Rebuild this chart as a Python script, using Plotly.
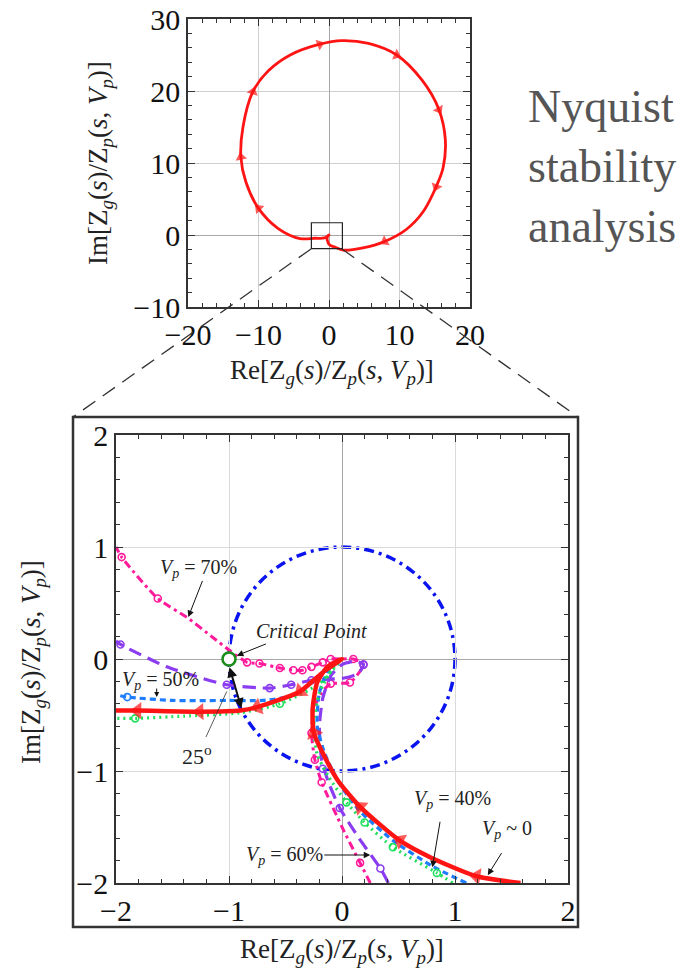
import plotly.graph_objects as go

W, H = 698, 970
def px(x): return x / W
def py(y): return 1 - y / H

SERIF = "Liberation Serif"

# ---------------- data: overview Nyquist loop (top) ----------------
loop_re = [4.8, 2.0, 0.9, 0.1, -0.25, -0.2, 0.0, -0.4, -0.9, -2.0, -4.1, -7.2, -10.0, -11.8, -12.5,
           -12.2, -10.8, -8.6, -5.5, -1.3, 1.8, 5.6, 9.6, 13.2, 15.6, 16.5, 16.2, 15.2, 13.4, 11.0, 7.9, 4.8]
loop_im = [-1.8, -2.1, -1.7, -1.4, -0.7, -0.2, 0.0, -0.3, -0.45, -0.45, -0.5, 0.9, 3.7, 7.4, 10.8,
           15.0, 19.9, 22.8, 25.0, 26.5, 27.0, 26.6, 25.0, 21.5, 17.4, 13.2, 9.4, 6.7, 3.3, 0.8, -0.9, -1.8]
loop_arrow_idx = [12, 14, 16, 19, 22, 24, 27, 30]

# ---------------- data: zoomed curves (bottom) ----------------
vp0_re = [1.58, 1.19, 0.78, 0.51, 0.16, -0.04, -0.17, -0.25, -0.26, -0.22, -0.13, 0.0,
          -0.17, -0.37, -0.46, -0.75, -0.9, -1.26, -1.81, -2.0]
vp0_im = [-2.0, -1.94, -1.77, -1.62, -1.32, -1.08, -0.84, -0.66, -0.45, -0.21, -0.07, 0.0,
          -0.12, -0.29, -0.33, -0.43, -0.46, -0.47, -0.46, -0.46]
vp0_arrow_idx = [1, 3, 4, 7, 13, 15, 17, 18]

vp40_re = [0.98, 0.84, 0.45, 0.2, 0.04, -0.12, -0.22, -0.25, -0.2, -0.08, 0.0, -0.2, -0.55, -0.9, -1.4, -1.83, -2.0]
vp40_im = [-2.0, -1.91, -1.68, -1.46, -1.28, -1.05, -0.85, -0.6, -0.3, -0.08, 0.0, -0.22, -0.4, -0.48, -0.51, -0.53, -0.53]
vp40_mk_re = [0.84, 0.45, 0.2, 0.04, -0.55, -1.83]
vp40_mk_im = [-1.91, -1.68, -1.46, -1.28, -0.4, -0.53]

vp50_re = [1.1, 0.8, 0.45, 0.15, -0.03, -0.15, -0.22, -0.2, -0.12, 0.0, -0.1, -0.25, -0.45, -0.7, -1.0, -1.5, -1.9, -2.0]
vp50_im = [-2.0, -1.85, -1.62, -1.35, -1.1, -0.85, -0.6, -0.3, -0.1, 0.0, -0.06, -0.2, -0.33, -0.37, -0.37, -0.37, -0.34, -0.32]
vp50_mk_re = [-1.9]
vp50_mk_im = [-0.34]

vp60_re = [0.41, 0.34, 0.15, -0.02, -0.12, -0.18, -0.2, -0.17, -0.1, 0.0, 0.12, 0.19, 0.14, 0.02,
           -0.1, -0.27, -0.45, -0.64, -1.02, -1.55, -1.96, -2.0]
vp60_im = [-2.0, -1.87, -1.6, -1.33, -1.1, -0.9, -0.6, -0.35, -0.15, -0.05, -0.02, -0.05, -0.13, -0.17,
           -0.18, -0.19, -0.23, -0.26, -0.23, -0.07, 0.13, 0.16]
vp60_mk_re = [0.34, -0.02, -0.17, 0.19, -0.27, -0.45, -0.64, -1.02, -1.96]
vp60_mk_im = [-1.87, -1.33, -0.98, -0.05, -0.19, -0.23, -0.26, -0.23, 0.13]

vp70_re = [0.25, 0.16, 0.0, -0.18, -0.24, -0.27, -0.25, -0.18, -0.1, 0.07, 0.19, 0.1, 0.0, -0.1,
           -0.17, -0.27, -0.35, -0.43, -0.55, -0.73, -0.84, -1.0, -1.14, -1.37, -1.63, -1.95, -2.0]
vp70_im = [-2.0, -1.82, -1.5, -1.1, -0.9, -0.66, -0.45, -0.3, -0.22, -0.21, -0.05, 0.0, 0.0, 0.0,
           -0.03, -0.07, -0.1, -0.1, -0.08, -0.04, -0.03, 0.08, 0.19, 0.37, 0.54, 0.91, 1.0]
vp70_mk_re = [0.16, -0.18, -0.24, -0.27, -0.1, 0.07, 0.19, 0.1, -0.1, -0.17, -0.27, -0.35, -0.43,
              -0.55, -0.73, -0.84, -1.63, -1.95]
vp70_mk_im = [-1.82, -1.1, -0.9, -0.66, -0.22, -0.21, -0.05, 0.0, 0.0, -0.03, -0.07, -0.1, -0.1,
              -0.08, -0.04, -0.03, 0.54, 0.91]

crit_re = [-1]
crit_im = [0]

x_top_ticks = [-20, -10, 0, 10, 20]
y_top_ticks = [-10, 0, 10, 20, 30]
x_bot_ticks = [-2, -1, 0, 1, 2]
y_bot_ticks = [-2, -1, 0, 1, 2]

# ---------------- figure ----------------
fig = go.Figure()

RED = "#ff1414"
fig.add_trace(go.Scatter(
    x=loop_re, y=loop_im, xaxis="x", yaxis="y", mode="lines+markers",
    line=dict(color=RED, width=2.8, shape="spline", smoothing=1.0),
    marker=dict(symbol="triangle-up", angleref="previous", color=RED, line_width=0,
                size=[10 if i in loop_arrow_idx else 0 for i in range(len(loop_re))]),
    hoverinfo="skip"))

def curve(xs, ys, color, width, dash):
    fig.add_trace(go.Scatter(x=xs, y=ys, xaxis="x2", yaxis="y2", mode="lines",
                             line=dict(color=color, width=width, dash=dash, shape="spline", smoothing=0.6),
                             hoverinfo="skip"))

def marks(xs, ys, color):
    fig.add_trace(go.Scatter(x=xs, y=ys, xaxis="x2", yaxis="y2", mode="markers",
                             marker=dict(symbol="circle-open", size=7, color=color, line=dict(width=1.6, color=color)),
                             hoverinfo="skip"))

MAG = "#ff1a9c"
PUR = "#8a3cf0"
BLU50 = "#1e7cff"
GRN = "#1ee05a"

curve(vp70_re, vp70_im, MAG, 3, "8px,4px,3px,4px")
marks(vp70_mk_re, vp70_mk_im, MAG)
curve(vp60_re, vp60_im, PUR, 3.2, "13px,7px")
marks(vp60_mk_re, vp60_mk_im, PUR)
curve(vp50_re, vp50_im, BLU50, 3.2, "6px,4px")
marks(vp50_mk_re, vp50_mk_im, BLU50)
curve(vp40_re, vp40_im, GRN, 3.2, "2px,4px")
marks(vp40_mk_re, vp40_mk_im, GRN)

fig.add_trace(go.Scatter(
    x=vp0_re, y=vp0_im, xaxis="x2", yaxis="y2", mode="lines+markers",
    line=dict(color=RED, width=4.5, shape="spline", smoothing=0.6),
    marker=dict(symbol="triangle-up", angleref="previous", color=RED, line_width=0,
                size=[15 if i in vp0_arrow_idx else 0 for i in range(len(vp0_re))]),
    hoverinfo="skip"))

fig.add_trace(go.Scatter(x=crit_re, y=crit_im, xaxis="x2", yaxis="y2", mode="markers",
                         marker=dict(symbol="circle", size=13, color="white",
                                     line=dict(width=2.6, color="#1a8c1a")),
                         hoverinfo="skip"))

# ---------------- axes ----------------
def axis(domain, rng, ticks, minor_dtick, anchor, grid="#cfcfcf"):
    return dict(domain=domain, range=rng, tickvals=ticks, anchor=anchor, automargin=False,
                showline=True, mirror="allticks", linecolor="#333", linewidth=1.5,
                ticks="inside", ticklen=7, tickwidth=1.2, tickcolor="#333",
                showgrid=True, gridcolor=grid, gridwidth=1,
                zeroline=True, zerolinecolor="#a8a8a8", zerolinewidth=1.2,
                tickfont=dict(family=SERIF, size=30, color="#111"),
                minor=dict(dtick=minor_dtick, ticks="inside", ticklen=4, tickwidth=1, tickcolor="#333", showgrid=False),
                fixedrange=True)

xa = axis([px(188), px(470)], [-20, 20], x_top_ticks, 2, "y")
ya = axis([py(307), py(19)], [-10, 30], y_top_ticks, 2, "x")
xb = axis([px(116), px(568)], [-2, 2], x_bot_ticks, 0.2, "y2", grid="#dadada")
yb = axis([py(883), py(435)], [-2, 2], y_bot_ticks, 0.2, "x2", grid="#dadada")

# ---------------- shapes ----------------
shapes = [
    dict(type="rect", xref="x", yref="y", x0=-2.5, x1=1.9, y0=-1.9, y1=1.7,
         line=dict(color="#222", width=1.2)),
    dict(type="line", xref="paper", yref="paper", x0=px(311), y0=py(249), x1=px(73), y1=py(417),
         line=dict(color="#333", width=1.3, dash="15px,9px")),
    dict(type="line", xref="paper", yref="paper", x0=px(342), y0=py(249), x1=px(578), y1=py(417),
         line=dict(color="#333", width=1.3, dash="15px,9px")),
    dict(type="rect", xref="paper", yref="paper", x0=px(73), x1=px(578), y0=py(927), y1=py(417),
         line=dict(color="#333", width=2.5)),
    dict(type="circle", xref="x2", yref="y2", x0=-1, x1=1, y0=-1, y1=1, layer="below",
         line=dict(color="#0a14f0", width=3.5, dash="10px,5px,3px,5px")),
]

# ---------------- annotations ----------------
def T(x, y, text, size=20, ref2=True, angle=0, color="#222", xanchor="center"):
    d = dict(x=x, y=y, text=text, showarrow=False, textangle=angle, xanchor=xanchor, yanchor="middle",
             font=dict(family=SERIF, size=size, color=color))
    if ref2:
        d.update(xref="x2", yref="y2")
    else:
        d.update(xref="paper", yref="paper")
    return d

def A(x, y, ax, ay, head=2, side="end", width=1, size=1.3):
    return dict(x=x, y=y, ax=ax, ay=ay, xref="x2", yref="y2", axref="x2", ayref="y2",
                text="", showarrow=True, arrowhead=head, arrowside=side, arrowwidth=width,
                arrowsize=size, arrowcolor="#111", standoff=0, startstandoff=0)

title_txt = "Re[Z<sub><i>g</i></sub>(<i>s</i>)/Z<sub><i>p</i></sub>(<i>s</i>, <i>V</i><sub><i>p</i></sub>)]"
ytitle_txt = "Im[Z<sub><i>g</i></sub>(<i>s</i>)/Z<sub><i>p</i></sub>(<i>s</i>, <i>V</i><sub><i>p</i></sub>)]"

annotations = [
    T(px(332), py(372), title_txt, size=27, ref2=False),
    T(px(100), py(163), ytitle_txt, size=27, ref2=False, angle=-90),
    T(px(342), py(951), title_txt, size=27, ref2=False),
    T(px(33), py(662), ytitle_txt, size=27, ref2=False, angle=-90),
    T(px(526), py(106), "Nyquist", size=46, ref2=False, color="#555", xanchor="left"),
    T(px(526), py(166), "stability", size=46, ref2=False, color="#555", xanchor="left"),
    T(px(526), py(226), "analysis", size=46, ref2=False, color="#555", xanchor="left"),

    T(-1.27, 0.81, "<i>V</i><sub><i>p</i></sub> = 70%"),
    A(-1.36, 0.375, -1.23, 0.71),
    T(-0.27, 0.25, "<i>Critical Point</i>"),
    A(-0.93, 0.03, -0.66, 0.14),
    T(-1.61, -0.19, "<i>V</i><sub><i>p</i></sub> = 50%"),
    A(-1.64, -0.34, -1.64, -0.25, size=1.0),
    T(-1.28, -0.86, "25<sup>o</sup>", size=22),
    dict(x=-1.02, y=-0.29, ax=-1.21, ay=-0.71, xref="x2", yref="y2", axref="x2", ayref="y2",
         text="", showarrow=True, arrowhead=0, arrowwidth=0.8, arrowcolor="#333", standoff=0),
    A(-0.89, -0.44, -1.0, -0.06, head=2, side="end+start", width=2, size=1.0),
    T(-0.51, -1.75, "<i>V</i><sub><i>p</i></sub> = 60%"),
    A(0.25, -1.75, -0.17, -1.75),
    T(0.98, -1.25, "<i>V</i><sub><i>p</i></sub> = 40%"),
    A(0.8, -1.86, 0.87, -1.44),
    T(1.46, -1.52, "<i>V</i><sub><i>p</i></sub> ~ 0"),
    A(1.29, -1.93, 1.42, -1.72),
]

fig.update_layout(
    width=W, height=H, autosize=False,
    margin=dict(l=0, r=0, t=0, b=0),
    paper_bgcolor="white", plot_bgcolor="white",
    showlegend=False,
    xaxis=xa, yaxis=ya, xaxis2=xb, yaxis2=yb,
    shapes=shapes, annotations=annotations,
    font=dict(family=SERIF),
)

fig.write_html("out.html", config={"displayModeBar": False})
